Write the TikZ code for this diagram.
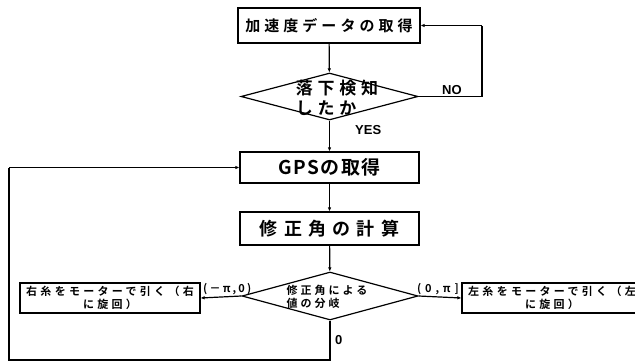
\documentclass[tikz,border=0pt]{standalone}
\usepackage{fontspec}
\newfontfamily\jp{Noto Sans CJK JP}[BoldFont={Noto Sans CJK JP Bold}]
\newfontfamily\lat{Liberation Sans}
\usetikzlibrary{shapes.geometric,arrows.meta}
\tikzset{
  box/.style={draw, line width=1.2pt, inner sep=0pt},
  dia/.style={draw, diamond, line width=1.2pt, inner sep=0pt, shape aspect=3.5},
  conn/.style={line width=1.2pt, -{Latex[length=4pt,width=3.5pt]}},
  line/.style={line width=1.2pt},
  lab/.style={font=\lat\bfseries\fontsize{13}{15}\selectfont, inner sep=0pt},
  plab/.style={font=\jp\bfseries\fontsize{11}{13}\selectfont, inner sep=0pt},
}
\begin{document}
\begin{tikzpicture}[x=1pt,y=-1pt]
\useasboundingbox (0,0) rectangle (635,362);
% boxes
\node[box, minimum width=182pt, minimum height=35pt] (b1) at (329,25.5) {};
\node[font=\jp\bfseries\fontsize{15}{18}\selectfont\addfontfeature{LetterSpace=27}] (t1) at (b1.center) {加速度データの取得};
\node[dia, minimum width=177pt, minimum height=47pt] (d1) at (329.5,96.5) {};
\node[font=\jp\bfseries\fontsize{17}{20}\selectfont\addfontfeature{LetterSpace=28}, align=left, inner sep=0pt] (td1) at (337,97.5) {落下検知\\したか};
\node[box, minimum width=179pt, minimum height=31pt] (b2) at (329.5,167.5) {};
\node[font=\jp\bfseries\fontsize{19}{21}\selectfont\addfontfeature{LetterSpace=8}] (t2) at (b2.center) {GPSの取得};
\node[box, minimum width=179pt, minimum height=33pt] (b3) at (329.5,228.5) {};
\node[font=\jp\bfseries\fontsize{18}{20}\selectfont\addfontfeature{LetterSpace=35}] (t3) at (b3.center) {修正角の計算};
\node[dia, minimum width=176pt, minimum height=48pt] (d2) at (330,296) {};
\node[font=\jp\bfseries\fontsize{11}{13}\selectfont\addfontfeature{LetterSpace=27}, align=left, inner sep=0pt] (td2) at (327,297) {修正角による\\値の分岐};
\node[box, minimum width=180pt, minimum height=30pt, font=\jp\bfseries\fontsize{11}{13}\selectfont\addfontfeature{LetterSpace=30}, align=center] (bl) at (110,298) {右糸をモーターで引く（右\\に旋回）};
\node[box, minimum width=180pt, minimum height=30pt, font=\jp\bfseries\fontsize{11}{13}\selectfont\addfontfeature{LetterSpace=30}, align=center] (br) at (552,298) {左糸をモーターで引く（左\\に旋回）};
% coordinates
\coordinate (nor) at (482,96.5);
\coordinate (nort) at (482,25.5);
\coordinate (bot) at (330,360);
\coordinate (botl) at (9,360);
\coordinate (lup) at (9,167.5);
% connectors
\draw[conn] (b1) -- (d1);
\draw[line] (d1.east) -- (nor) -- (nort);
\draw[conn] (nort) -- (b1.east);
\draw[conn] (d1) -- (b2);
\draw[conn] (b2) -- (b3);
\draw[conn] (b3) -- (d2);
\draw[conn] (d2.west) -- (bl.east);
\draw[conn] (d2.east) -- (br.west);
\draw[line] (d2.south) -- (bot) -- (botl) -- (lup);
\draw[conn] (lup) -- (b2.west);
% labels
\node[lab, anchor=west] (lno) at (442,90) {NO};
\node[lab, anchor=west] (lyes) at (355,130) {YES};
\node[lab, anchor=west] (lzero) at (335,340) {0};
\node[plab, anchor=south west, font=\jp\bfseries\fontsize{11}{13}\selectfont\addfontfeature{LetterSpace=20}] (lneg) at (203,295) {(－π,0)};
\node[plab, anchor=south west, font=\jp\bfseries\fontsize{11}{13}\selectfont\addfontfeature{LetterSpace=35}] (lpos) at (417,295) {(0,π]};
\end{tikzpicture}
\end{document}
